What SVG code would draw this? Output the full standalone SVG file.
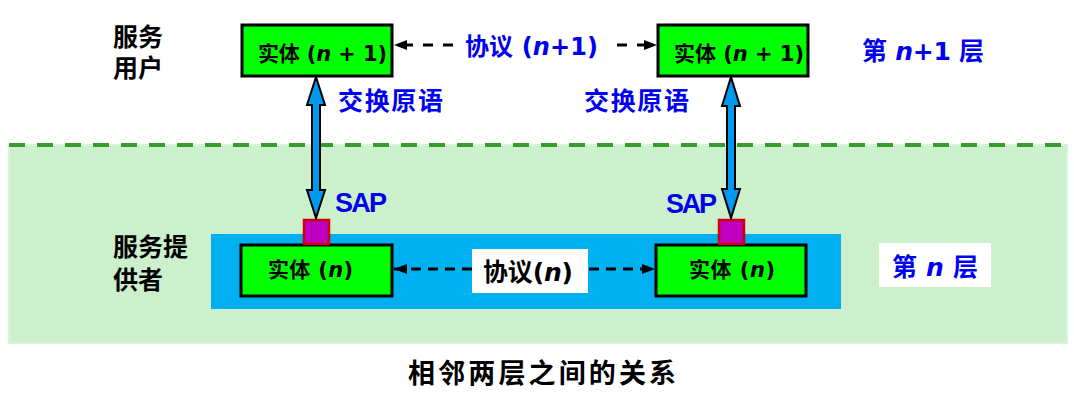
<svg xmlns="http://www.w3.org/2000/svg" width="1074" height="400" viewBox="0 0 1074 400">
<style>
text{font-family:"DejaVu Sans","Noto Sans CJK SC",sans-serif;font-weight:bold}
.sapt{font-family:"Liberation Sans","Noto Sans CJK SC",sans-serif}
.blk{fill:#000}
.blu{fill:#0000f0}
.ent{fill:#00ff00;stroke:#000;stroke-width:3}
.sap{fill:#c000c0;stroke:#d00000;stroke-width:2.5}
.dbl{fill:#0099ee;stroke:#000;stroke-width:2;stroke-linejoin:miter}
.dash1{stroke:#000;stroke-width:3;stroke-dasharray:10 10;fill:none;marker-end:url(#ah)}
.dash2{stroke:#000;stroke-width:3;stroke-dasharray:10 7;fill:none;marker-end:url(#ah)}
.it{font-style:italic}
</style>
<defs>
<marker id="ah" markerUnits="userSpaceOnUse" markerWidth="14" markerHeight="12" refX="13" refY="6" orient="auto">
<path d="M0,1 L13,6 L0,11 Z" fill="#000"/>
</marker>
</defs>
<rect width="1074" height="400" fill="#fff"/>
<g id="layer-n-band">
<rect x="9" y="145" width="1058" height="198" fill="#cbf0cb" stroke="#d6f6d6" stroke-width="2"/>
<line x1="9" y1="145" x2="1067" y2="145" stroke="#3a9a32" stroke-width="4" stroke-dasharray="16 12"/>
</g>
<g id="layer-n-blue">
<rect x="211" y="234" width="630" height="75" fill="#00b0f0"/>
</g>
<g id="label-user">
<text class="blk" font-size="25" x="113" y="46">服务</text>
<text class="blk" font-size="25" x="113" y="77">用户</text>
</g>
<g id="label-provider">
<text class="blk" font-size="25" x="113" y="256">服务提</text>
<text class="blk" font-size="25" x="113" y="289">供者</text>
</g>
<g id="entity-n1-left">
<rect class="ent" x="242" y="25" width="150" height="51"/>
<text class="blk" font-size="21" x="258" y="61" textLength="129">实体 (<tspan class="it">n</tspan> + 1)</text>
</g>
<g id="entity-n1-right">
<rect class="ent" x="658" y="25" width="150" height="51"/>
<text class="blk" font-size="21" x="674" y="61" textLength="130">实体 (<tspan class="it">n</tspan> + 1)</text>
</g>
<g id="entity-n-left">
<rect class="ent" x="241" y="245" width="151" height="51"/>
<text class="blk" font-size="21" x="268" y="277" textLength="85">实体 (<tspan class="it">n</tspan>)</text>
</g>
<g id="entity-n-right">
<rect class="ent" x="656" y="245" width="150" height="51"/>
<text class="blk" font-size="21" x="689" y="277" textLength="86">实体 (<tspan class="it">n</tspan>)</text>
</g>
<g id="sap-left">
<rect class="sap" x="304" y="220" width="25" height="24"/>
<text class="blu sapt" font-size="27" x="335" y="212" textLength="52">SAP</text>
</g>
<g id="sap-right">
<rect class="sap" x="719" y="220" width="25" height="24"/>
<text class="blu sapt" font-size="27" x="666" y="213" textLength="51">SAP</text>
</g>
<g id="label-layer-n1">
<text class="blu" font-size="25" x="862" y="60" textLength="122">第 <tspan class="it">n</tspan>+1 层</text>
</g>
<g id="label-layer-n">
<rect x="879" y="243" width="112" height="44" fill="#fff"/>
<text class="blu" font-size="25" x="892" y="276" textLength="86">第 <tspan class="it">n</tspan> 层</text>
</g>
<g id="connectors">
<polygon class="dbl" points="316,77 325,105 320,105 320,190 325,190 316,218 307,190 312,190 312,105 307,105"/>
<polygon class="dbl" points="731,77 740,106 735,106 735,189 740,189 731,218 722,189 727,189 727,106 722,106"/>
<path class="dash1" d="M453,45 L394,45"/>
<path class="dash1" d="M617,45 L657,45"/>
<path class="dash2" d="M472,269 L394,269"/>
<path class="dash2" d="M589,269 L655,269"/>
<text class="blu" font-size="24" x="465" y="55" textLength="133">协议 (<tspan class="it">n</tspan>+1)</text>
<rect x="472" y="249" width="116" height="44" fill="#fff"/>
<text class="blk" font-size="25" x="483" y="281" textLength="90">协议(<tspan class="it">n</tspan>)</text>
<text class="blu" font-size="25" x="338" y="110" textLength="105">交换原语</text>
<text class="blu" font-size="25" x="584" y="110" textLength="105">交换原语</text>
</g>
<g id="caption">
<text class="blk" font-size="27" x="408" y="383" textLength="268">相邻两层之间的关系</text>
</g>
</svg>
